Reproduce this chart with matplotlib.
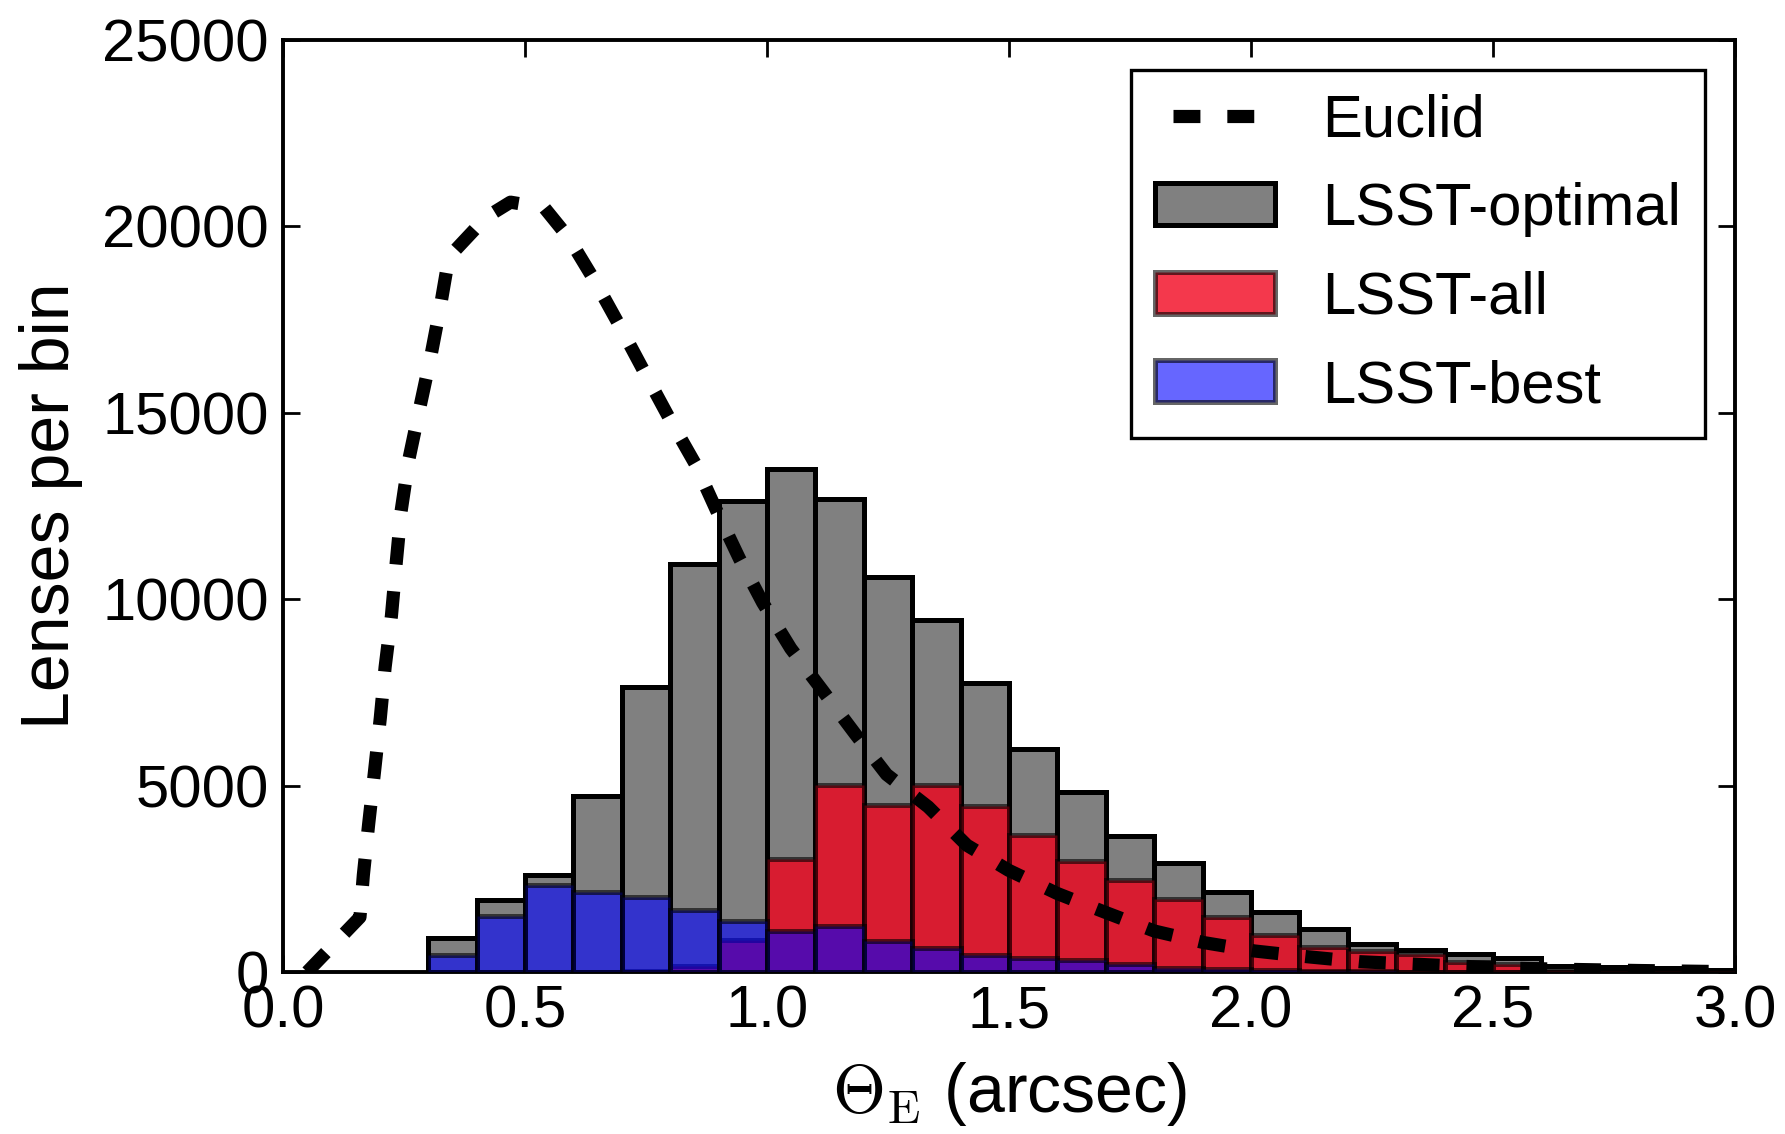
import matplotlib
matplotlib.use('Agg')
import matplotlib.pyplot as plt

# ---- data ----
bin_left = [0.3, 0.4, 0.5, 0.6, 0.7, 0.8, 0.9, 1.0, 1.1, 1.2, 1.3, 1.4, 1.5, 1.6,
            1.7, 1.8, 1.9, 2.0, 2.1, 2.2, 2.3, 2.4, 2.5, 2.6, 2.7, 2.8, 2.9]
bin_width = 0.1
lsst_optimal = [900, 1930, 2600, 4720, 7650, 10950, 12630, 13500, 12700, 10600, 9450,
                7740, 5990, 4830, 3640, 2930, 2140, 1620, 1150, 760, 580, 490, 370,
                150, 130, 100, 50]
lsst_all = [0, 0, 0, 0, 20, 160, 860, 3020, 5020, 4480, 5020, 4440, 3680, 2970, 2460,
            1950, 1470, 1000, 670, 560, 470, 270, 220, 60, 40, 30, 15]
lsst_best = [450, 1500, 2340, 2150, 2020, 1650, 1360, 1110, 1240, 840, 640, 465, 385,
             315, 205, 120, 80, 50, 30, 20, 10, 10, 5, 0, 0, 0, 0]

euclid_theta = [0.05, 0.159, 0.166, 0.177, 0.189, 0.201, 0.211, 0.224, 0.234, 0.244,
                0.260, 0.282, 0.305, 0.325, 0.343, 0.355, 0.42, 0.47, 0.54, 0.59,
                0.645, 0.697, 0.748, 0.80, 0.853, 0.895, 0.943, 0.991, 1.049, 1.116,
                1.182, 1.247, 1.333, 1.413, 1.499, 1.599, 1.695, 1.80, 1.902, 2.008,
                2.116, 2.223, 2.33, 2.44, 2.55, 2.66, 2.8, 2.95]
euclid_counts = [0, 1470, 2600, 3970, 5370, 6810, 8180, 9550, 10990, 12360,
                 13750, 15100, 16490, 17840, 19200, 19350, 20250, 20650, 20500, 19700,
                 18520, 17300, 16060, 14810, 13600, 12400, 11090, 9910, 8680, 7530,
                 6390, 5300, 4430, 3400, 2730, 2110, 1620, 1100, 790, 563,
                 410, 277, 215, 150, 100, 70, 40, 15]

xticks = [0.0, 0.5, 1.0, 1.5, 2.0, 2.5, 3.0]
yticks = [0, 5000, 10000, 15000, 20000, 25000]
labels = ['Euclid', 'LSST-optimal', 'LSST-all', 'LSST-best']

plt.rcParams['font.family'] = ['Liberation Sans', 'DejaVu Sans']
plt.rcParams['mathtext.fontset'] = 'cm'

FS = 43
LFS = 49
fig = plt.figure(figsize=(17.85, 11.34), dpi=100)
W, H = 1785, 1134
ax = fig.add_axes([283 / W, 1 - 972 / H, (1735 - 283) / W, (972 - 40) / H])

edge_a = (0, 0, 0, 0.6)
b_opt = ax.bar(bin_left, lsst_optimal, width=bin_width, align='edge', color='#808080',
               edgecolor='black', linewidth=3.6, label=labels[1], zorder=2)
b_all = ax.bar(bin_left, lsst_all, width=bin_width, align='edge',
               color=(0.95, 0.0, 0.1, 0.78), edgecolor=edge_a, linewidth=3.6,
               label=labels[2], zorder=3)
b_best = ax.bar(bin_left, lsst_best, width=bin_width, align='edge',
                color=(0.0, 0.0, 1.0, 0.6), edgecolor=edge_a, linewidth=3.6,
                label=labels[3], zorder=4)
line, = ax.plot(euclid_theta, euclid_counts, color='black', lw=9.5,
                dashes=(2.04, 2.04), label=labels[0], zorder=5)

ax.set_xlim(0, 3.0)
ax.set_ylim(0, 25000)
ax.set_xticks(xticks)
ax.set_xticklabels(['%.1f' % v for v in xticks])
ax.set_yticks(yticks)
ax.set_yticklabels([str(v) for v in yticks])
ax.tick_params(which='both', direction='in', top=True, right=True, length=12, width=2,
               labelsize=FS)
ax.tick_params(axis='x', pad=9)
ax.tick_params(axis='y', pad=10)
for s in ax.spines.values():
    s.set_linewidth(2.8)

ax.set_ylabel('Lenses per bin', fontsize=LFS)
ax.set_xlabel(r'$\Theta_{\rm E}$ (arcsec)', fontsize=LFS)
ax.yaxis.set_label_coords(-0.138, 0.5)
ax.xaxis.set_label_coords(0.5, -0.094)

leg = ax.legend([line, b_opt, b_all, b_best], labels, loc='upper right', fontsize=FS,
                numpoints=2, fancybox=False, framealpha=1, edgecolor='black',
                borderpad=0.4, labelspacing=0.56, handlelength=2.0, handletextpad=0.8,
                borderaxespad=0.5)
leg.get_frame().set_linewidth(2.4)
leg.set_zorder(10)

fig.savefig('out.png', dpi=100, facecolor='white')
